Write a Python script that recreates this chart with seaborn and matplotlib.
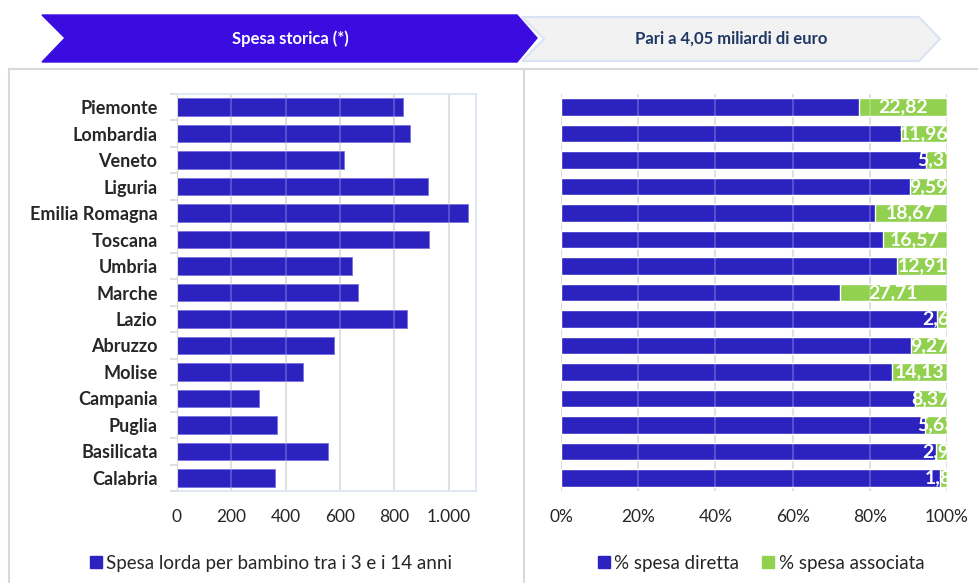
import matplotlib
matplotlib.use("Agg")
import matplotlib.pyplot as plt
import seaborn as sns
import pandas as pd
from matplotlib.patches import Polygon
from matplotlib.lines import Line2D

# data
regioni = ["Piemonte", "Lombardia", "Veneto", "Liguria", "Emilia Romagna", "Toscana",
           "Umbria", "Marche", "Lazio", "Abruzzo", "Molise", "Campania", "Puglia",
           "Basilicata", "Calabria"]
spesa_lorda = [833, 857, 614, 923, 1069, 927, 642, 667, 845, 577, 463, 301, 367, 557, 361]
spesa_associata = [22.82, 11.96, 5.37, 9.59, 18.67, 16.57, 12.91, 27.71, 2.62, 9.27,
                   14.13, 8.37, 5.63, 2.93, 1.83]
spesa_diretta = [100 - v for v in spesa_associata]

left_ticks = [0, 200, 400, 600, 800, 1000]
left_ticklabels = ["0", "200", "400", "600", "800", "1.000"]
right_ticks = [0, 20, 40, 60, 80, 100]
right_ticklabels = ["0%", "20%", "40%", "60%", "80%", "100%"]

BLUE = "#2b22c0"
GREEN = "#92d050"
GRID = "#d9d9d9"
FRAME = "#dae3f3"

df = pd.DataFrame({"regione": regioni, "spesa": spesa_lorda,
                   "diretta": spesa_diretta, "associata": spesa_associata})
df["totale"] = df["diretta"] + df["associata"]

sns.set_style("white")
plt.rcParams["font.family"] = ["Lato", "DejaVu Sans"]

W, H = 979, 583
fig = plt.figure(figsize=(W / 100, H / 100), dpi=100)


def px(x, y):
    return (x / W, 1 - y / H)


# header chevrons
fig.patches.append(Polygon([px(42, 15), px(517, 15), px(537, 38), px(517, 62), px(42, 62), px(65, 38)],
                           closed=True, transform=fig.transFigure, facecolor="#3a0ce0",
                           edgecolor="#3a0ce0", zorder=1))
fig.patches.append(Polygon([px(522, 17), px(919, 17), px(940, 39), px(919, 61), px(522, 61), px(544, 39)],
                           closed=True, transform=fig.transFigure, facecolor="#f2f2f2",
                           edgecolor=FRAME, lw=1.5, zorder=1))
fig.text(*px(290, 39), "Spesa storica (*)", color="white", fontweight="bold",
         fontsize=12, ha="center", va="center")
fig.text(*px(731, 39), "Pari a 4,05 miliardi di euro", color="#1f3864", fontweight="bold",
         fontsize=12, ha="center", va="center")

# panel borders
for xs, ys in [((9, 979), (69, 69)), ((9, 9), (69, 583)), ((524, 524), (69, 583))]:
    p0 = px(xs[0], ys[0])
    p1 = px(xs[1], ys[1])
    fig.add_artist(Line2D([p0[0], p1[0]], [p0[1], p1[1]], color=GRID, lw=1.5,
                          transform=fig.transFigure))

# left chart
ax1 = fig.add_axes([177 / W, 1 - 491 / H, (476 - 177) / W, (491 - 94) / H])
sns.barplot(data=df, x="spesa", y="regione", orient="h", color=BLUE, width=0.66,
            saturation=1, ax=ax1, edgecolor="#7a72e0", linewidth=0.6, zorder=2)
ax1.set_xlim(0, 1100)
ax1.set_xticks(left_ticks)
ax1.set_xticklabels(left_ticklabels, fontsize=12.5)
ax1.set_xlabel("")
ax1.set_ylabel("")
ax1.grid(axis="x", color=GRID, lw=1.5, zorder=0)
ax1.set_axisbelow(True)
for t in left_ticks[1:]:
    ax1.axvline(t, color="white", alpha=0.25, lw=1.2, zorder=3)
for s in ["top", "right", "bottom"]:
    ax1.spines[s].set_color(FRAME)
    ax1.spines[s].set_linewidth(1.2)
ax1.spines["left"].set_color(GRID)
ax1.set_yticks([i + 0.5 for i in range(-1, len(regioni))], minor=True)
ax1.tick_params(axis="y", which="minor", length=5, color=GRID, width=1.2, left=True)
ax1.tick_params(axis="y", which="major", length=0, pad=14)
ax1.tick_params(axis="x", length=0, pad=13)
for lab in ax1.get_yticklabels():
    lab.set_fontweight("bold")
    lab.set_fontsize(13)
ax1.set_ylim(len(regioni) - 0.5, -0.5)

# right chart
ax2 = fig.add_axes([561 / W, 1 - 491 / H, (947 - 561) / W, (491 - 94) / H])
sns.barplot(data=df, x="totale", y="regione", orient="h", color=GREEN, width=0.66,
            saturation=1, ax=ax2, zorder=2)
sns.barplot(data=df, x="diretta", y="regione", orient="h", color=BLUE, width=0.66,
            saturation=1, ax=ax2, zorder=3)
for t in right_ticks[1:]:
    ax2.axvline(t, color="white", alpha=0.25, lw=1.2, zorder=3.5)
for i, row in df.iterrows():
    ax2.text(row["diretta"] + row["associata"] / 2, i, f"{row['associata']:.2f}".replace(".", ","),
             color="white", fontweight="bold", fontsize=14, ha="center", va="center",
             clip_on=True, zorder=4)
ax2.set_xlim(0, 100)
ax2.set_ylim(len(regioni) - 0.5, -0.5)
ax2.set_xticks(right_ticks)
ax2.set_xticklabels(right_ticklabels, fontsize=12.5)
ax2.set_yticks([])
ax2.set_xlabel("")
ax2.set_ylabel("")
ax2.grid(axis="x", color=GRID, lw=1.5, zorder=0)
ax2.set_axisbelow(True)
sns.despine(ax=ax2, left=True, bottom=True)
ax2.tick_params(axis="x", length=0, pad=13)

# legends
h1 = [Line2D([], [], marker="s", ls="", color=BLUE, markersize=9)]
fig.legend(h1, ["Spesa lorda per bambino tra i 3 e i 14 anni"], loc="center",
           bbox_to_anchor=px(271, 563), frameon=False, fontsize=13.5,
           handlelength=0.7, handletextpad=0.2, borderaxespad=0)
h2 = [Line2D([], [], marker="s", ls="", color=BLUE, markersize=9),
      Line2D([], [], marker="s", ls="", color=GREEN, markersize=9)]
fig.legend(h2, ["% spesa diretta", "% spesa associata"], loc="center", ncol=2,
           bbox_to_anchor=px(761, 563), frameon=False, fontsize=13.5,
           handlelength=0.7, handletextpad=0.2, columnspacing=1.2, borderaxespad=0)

fig.savefig("out.png", dpi=100)
